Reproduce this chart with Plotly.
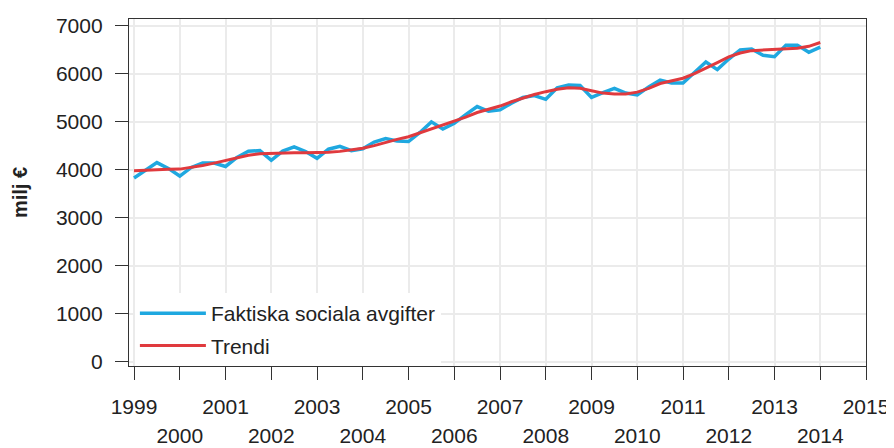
import plotly.graph_objects as go

# Quarterly periods 1999Q1 .. 2014Q1 (decimal years)
periods = [y + q / 4 for y in range(1999, 2014) for q in range(4)] + [2014.0]

faktiska = [
    3830, 3990, 4150, 4030,  # 1999
    3870, 4050, 4140, 4140,  # 2000
    4070, 4260, 4390, 4400,  # 2001
    4200, 4390, 4480, 4380,  # 2002
    4240, 4430, 4490, 4400,  # 2003
    4440, 4580, 4650, 4600,  # 2004
    4590, 4780, 5000, 4850,  # 2005
    4970, 5150, 5320, 5220,  # 2006
    5250, 5390, 5510, 5550,  # 2007
    5470, 5710, 5770, 5760,  # 2008
    5510, 5610, 5700, 5600,  # 2009
    5560, 5730, 5870, 5810,  # 2010
    5810, 6030, 6250, 6090,  # 2011
    6310, 6500, 6520, 6390,  # 2012
    6360, 6600, 6600, 6450,  # 2013
    6560,                    # 2014
]

trendi = [
    3980, 3995, 4005, 4010,
    4015, 4045, 4090, 4140,
    4190, 4250, 4305, 4335,
    4345, 4350, 4355, 4355,
    4355, 4365, 4385, 4410,
    4450, 4505, 4575, 4635,
    4690, 4770, 4860, 4940,
    5010, 5100, 5195, 5265,
    5330, 5420, 5500, 5570,
    5630, 5680, 5710, 5700,
    5650, 5600, 5580, 5580,
    5620, 5700, 5800, 5860,
    5910, 6005, 6115, 6235,
    6355, 6435, 6485, 6495,
    6505, 6515, 6535, 6575,
    6655,
]

tick_years = list(range(1999, 2016))
even_years = [y for y in tick_years if y % 2 == 0]
y_ticks = list(range(0, 8000, 1000))

FONT = "Liberation Sans, Arial, sans-serif"
AX = "#333333"
GRID = "#ebebeb"

fig = go.Figure()
fig.add_trace(go.Scatter(x=periods, y=faktiska, mode="lines",
                         name="Faktiska sociala avgifter", legendgroup="a",
                         line=dict(color="#1fa8e0", width=3.5)))
fig.add_trace(go.Scatter(x=periods, y=trendi, mode="lines",
                         name="Trendi", legendgroup="b",
                         line=dict(color="#e03a3e", width=3)))

# the page body adds an 8px margin, so the figure is 886x440
fig.update_layout(
    width=886, height=440,
    margin=dict(l=121, r=28, t=11, b=82, autoexpand=False),
    paper_bgcolor="white", plot_bgcolor="white",
    font=dict(family=FONT, size=21, color="#222222"),
    showlegend=True,
    legend=dict(x=0.008, y=0.0, xanchor="left", yanchor="bottom",
                bgcolor="white", borderwidth=0, traceorder="grouped",
                tracegroupgap=2, itemwidth=66,
                font=dict(size=21, color="#222222")),
    xaxis=dict(range=[1998.89, 2015.0], tickmode="array",
               tickvals=tick_years,
               ticktext=[str(y) if y % 2 == 1 else "" for y in tick_years],
               ticks="outside", ticklen=13, tickcolor=AX, tickwidth=1.3,
               showgrid=True, gridcolor=GRID, gridwidth=1.5,
               showline=True, linecolor=AX, linewidth=1.3, mirror=True,
               zeroline=False, ticklabelstandoff=9, automargin=False),
    xaxis2=dict(range=[1998.89, 2015.0], overlaying="x", anchor="y",
                side="bottom", tickmode="array", tickvals=even_years,
                ticktext=[str(y) for y in even_years], ticks="",
                showgrid=False, showline=False, zeroline=False,
                ticklabelstandoff=55, automargin=False),
    yaxis=dict(range=[-90, 7145], tickmode="array", tickvals=y_ticks,
               ticks="outside", ticklen=13, tickcolor=AX, tickwidth=1.3,
               showgrid=True, gridcolor=GRID, gridwidth=1.5,
               showline=True, linecolor=AX, linewidth=1.3, mirror=True,
               zeroline=False, ticklabelstandoff=8, automargin=False,
               title=dict(text="<b>milj €</b>", font=dict(size=20), standoff=22)),
)

# invisible trace to activate the second (even-year label) axis
fig.add_trace(go.Scatter(x=[2000], y=[None], xaxis="x2", showlegend=False,
                         hoverinfo="skip", mode="lines"))

fig.write_html("out.html")
